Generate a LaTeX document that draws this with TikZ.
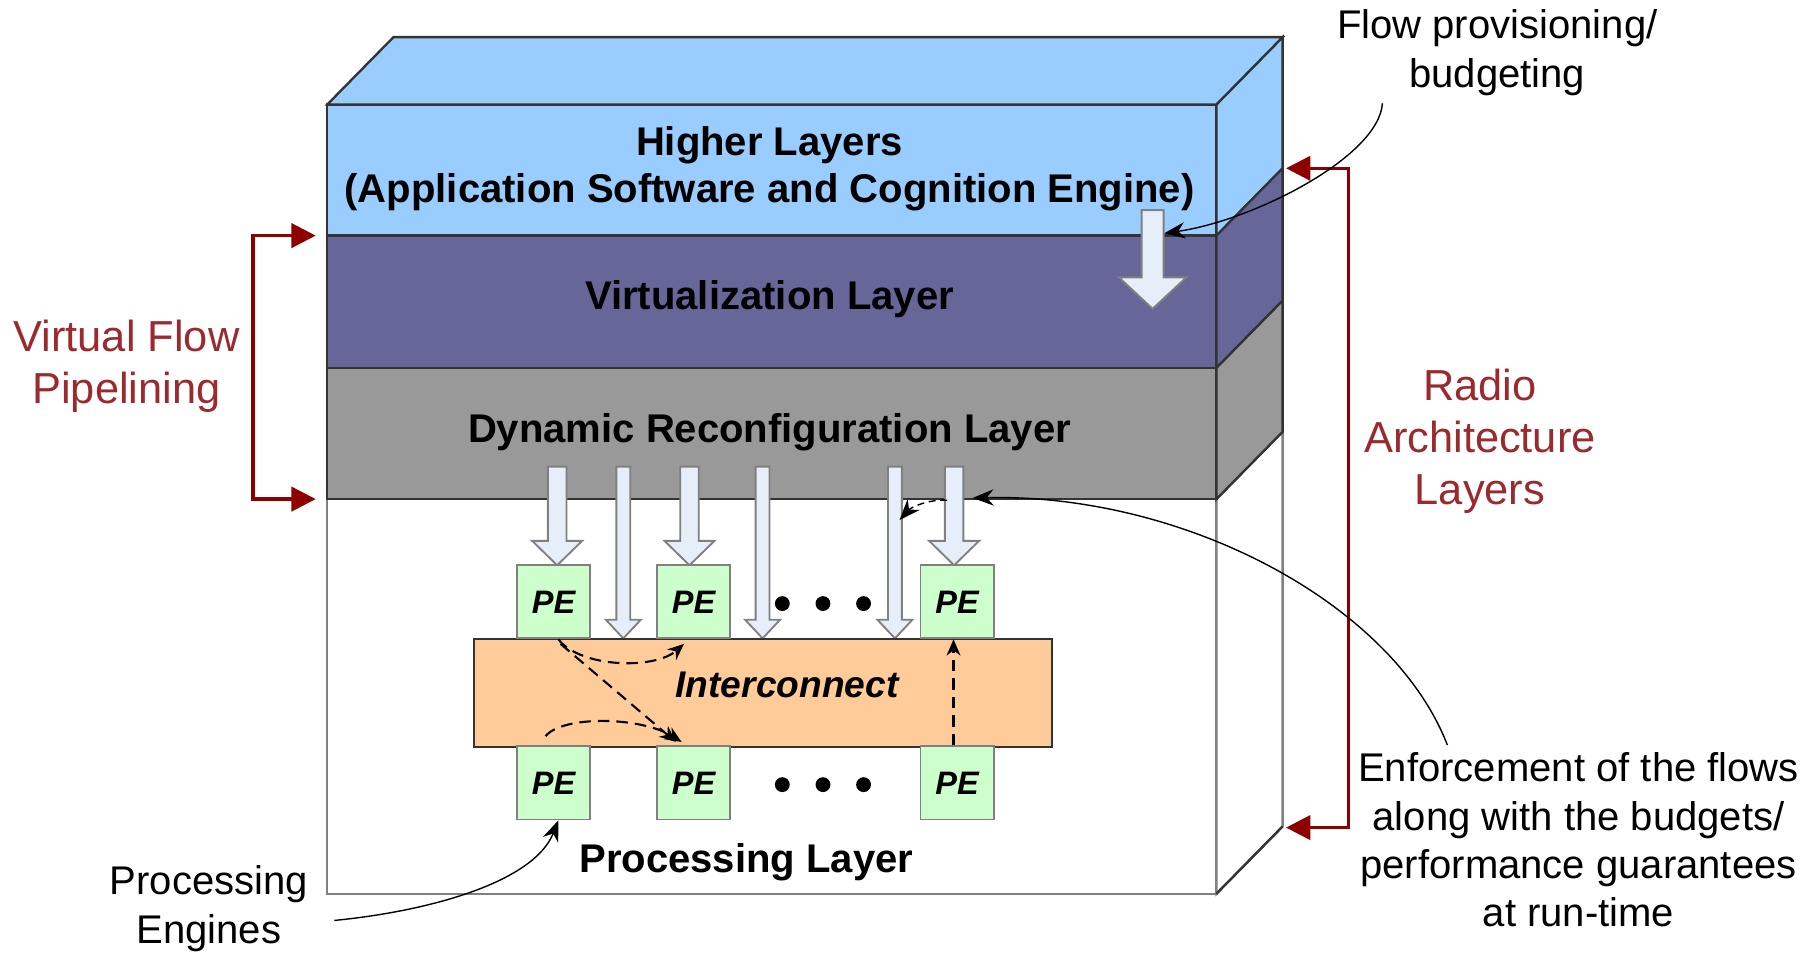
\documentclass[tikz,border=0pt]{standalone}
\usepackage{fontspec}
\setmainfont{Liberation Sans}
\usetikzlibrary{arrows.meta}

\definecolor{higherblue}{HTML}{99CCFF}
\definecolor{virtpurple}{HTML}{666699}
\definecolor{dyngray}{HTML}{999999}
\definecolor{icorange}{HTML}{FFCC99}
\definecolor{pegreen}{HTML}{CCFFCC}
\definecolor{flowwhite}{HTML}{E6EEFA}
\definecolor{flowred}{HTML}{8E0000}
\definecolor{textred}{HTML}{9B2A2E}
\definecolor{edgedark}{HTML}{333333}
\definecolor{edgegray}{HTML}{808080}

\tikzset{
  layerlabel/.style={font=\bfseries\fontsize{17.25}{20.5}\selectfont, align=center, inner sep=0pt, anchor=base},
  note/.style={font=\fontsize{17.25}{20.8}\selectfont, align=center, inner sep=0pt, anchor=base},
  rednote/.style={font=\fontsize{18.7}{22.5}\selectfont, text=textred, align=center, inner sep=0pt, anchor=base},
  pebox/.style={draw=edgegray, fill=pegreen, line width=0.8pt, minimum width=31.5pt, minimum height=31.5pt,
    inner sep=0pt, font=\bfseries\itshape\fontsize{14}{14}\selectfont},
  icbox/.style={draw=edgedark, fill=icorange, line width=0.8pt, minimum width=249pt, minimum height=46.5pt, inner sep=0pt},
  blockarrow/.style={draw=edgegray, fill=flowwhite, line width=0.8pt},
  bracket/.style={draw=flowred, line width=1.4pt, {Triangle[length=10.5pt,width=10.5pt]}-{Triangle[length=10.5pt,width=10.5pt]}},
  pointer/.style={draw=black, line width=0.6pt, -{Stealth[length=9pt,width=7pt]}},
  flow/.style={draw=black, line width=0.9pt, dash pattern=on 5pt off 3pt, -{Stealth[length=7pt,width=6pt]}},
}

\begin{document}
\begin{tikzpicture}[x=0.5pt,y=-0.5pt]
\useasboundingbox (0,0) rectangle (1568,822);
\def\fl{282}
\def\fr{1048}
\def\dx{57}
\def\dy{58}

% processing layer (front and side)
\draw[edgegray, line width=1pt, fill=white] (\fl,430) rectangle (\fr,770);
\draw[edgegray, line width=1pt, fill=white] (\fr,430) -- ++(\dx,-\dy) -- ++(0,340) -- (\fr,770) -- cycle;
\draw[edgedark, line width=1pt] (\fr,770) -- ++(\dx,-\dy);

% upper layers
\foreach \ya/\yb/\col in {90/203/higherblue, 203/317/virtpurple, 317/430/dyngray}{
  \draw[edgedark, line width=1pt, fill=\col] (\fl,\ya) rectangle (\fr,\yb);
  \draw[edgedark, line width=1pt, fill=\col] (\fr,\ya) -- ++(\dx,-\dy) -- ++(0,{\yb-\ya}) -- (\fr,\yb) -- cycle;
}
\draw[edgedark, line width=1pt, fill=higherblue] (\fl,90) -- ++(\dx,-\dy) -- ({\fr+\dx},{90-\dy}) -- (\fr,90) -- cycle;

\coordinate (vtop) at (\fl,203);
\coordinate (vbot) at (\fl,430);
\coordinate (rtop) at ({\fr+\dx},145);
\coordinate (rbot) at ({\fr+\dx},713);

% layer names (base = last line)
\node[layerlabel] (higher) at (663,174.6) {Higher Layers\\(Application Software and Cognition Engine)};
\node[layerlabel] (virt) at (663,267) {Virtualization Layer};
\node[layerlabel] (dynrec) at (663,381.5) {Dynamic Reconfiguration Layer};
\node[layerlabel] (proc) at (643,752) {Processing Layer};

% block arrows
\foreach \x/\top/\tip/\sw/\hw/\hl in {993/181/266/19/58/27, 480/402/487/16/43/21, 537/402/550/12/30/16,
  594/402/487/16/43/21, 657/402/550/12/30/16, 771/402/550/12/30/16, 822/402/487/16/43/21}{
  \draw[blockarrow] ({\x-\sw/2},\top) -- ({\x-\sw/2},{\tip-\hl}) -- ({\x-\hw/2},{\tip-\hl}) -- (\x,\tip)
    -- ({\x+\hw/2},{\tip-\hl}) -- ({\x+\sw/2},{\tip-\hl}) -- ({\x+\sw/2},\top) -- cycle;
}

% interconnect and processing engines
\node[icbox] (icn) at (657.5,597) {};
\node[font=\bfseries\itshape\fontsize{16}{16}\selectfont, inner sep=0pt, anchor=base] (icnlabel) at (678,600.5) {Interconnect};
\node[pebox] (pe1) at (477,518.5) {PE};
\node[pebox] (pe2) at (597.5,518.5) {PE};
\node[pebox] (pe3) at (824.5,518.5) {PE};
\node[pebox] (pe4) at (477,674.5) {PE};
\node[pebox] (pe5) at (597.5,674.5) {PE};
\node[pebox] (pe6) at (824.5,674.5) {PE};
\foreach \y in {520,676}
  \foreach \x in {674,709,744}
    \fill (\x,\y) circle (3.2pt);

% flows through the interconnect
\draw[flow] ([xshift=2pt]pe1.south) .. controls +(20,25) and +(-25,22) .. ([xshift=12pt,yshift=-2pt]pe2.south west);
\draw[flow] ([xshift=3pt,yshift=-2pt]pe1.south) -- ([xshift=8.5pt,yshift=1.5pt]pe5.north west);
\draw[flow] ([xshift=-3.5pt,yshift=4pt]pe4.north) .. controls +(15,-18) and +(-35,-22) .. ([xshift=11pt,yshift=1.5pt]pe5.north west);
\draw[flow] ([xshift=-1.5pt]pe6.north) -- ([xshift=-1.5pt]pe3.south);

% brackets
\draw[bracket] ([xshift=-5pt]vtop) -- ++(-54,0) |- ([xshift=-5pt]vbot);
\draw[bracket] ([xshift=1.5pt]rtop) -- ++(54,0) |- ([xshift=1.5pt]rbot);
\node[rednote] (vfp) at (109,347.5) {Virtual Flow\\Pipelining};
\node[rednote] (ral) at (1275,435) {Radio\\Architecture\\Layers};

% annotations
\node[note] (flowprov) at (1290,75) {Flow provisioning/\\budgeting};
\node[note] (enforce) at (1360,798.5) {Enforcement of the flows\\along with the budgets/\\performance guarantees\\at run-time};
\node[note] (engines) at (180,812.6) {Processing\\Engines};

\coordinate (flowstart) at (1191,89);
\coordinate (flowend) at (1003,201);
\draw[pointer] (flowstart) .. controls (1188,135) and (1080,190) .. (flowend);

\coordinate (enfstart) at (1247,642);
\coordinate (enfend) at (838,429);
\draw[pointer] (enfstart) .. controls (1200,520) and (1020,425) .. (enfend);
\coordinate (enfdash) at (816,431);
\coordinate (enftap) at (775,448);
\draw[pointer, dash pattern=on 3pt off 2pt] (enfdash) .. controls (800,430) and (785,437) .. (enftap);

\coordinate (engstart) at (288,793);
\draw[pointer] (engstart) .. controls (370,785) and (460,760) .. ([xshift=2pt]pe4.south);
\end{tikzpicture}
\end{document}
